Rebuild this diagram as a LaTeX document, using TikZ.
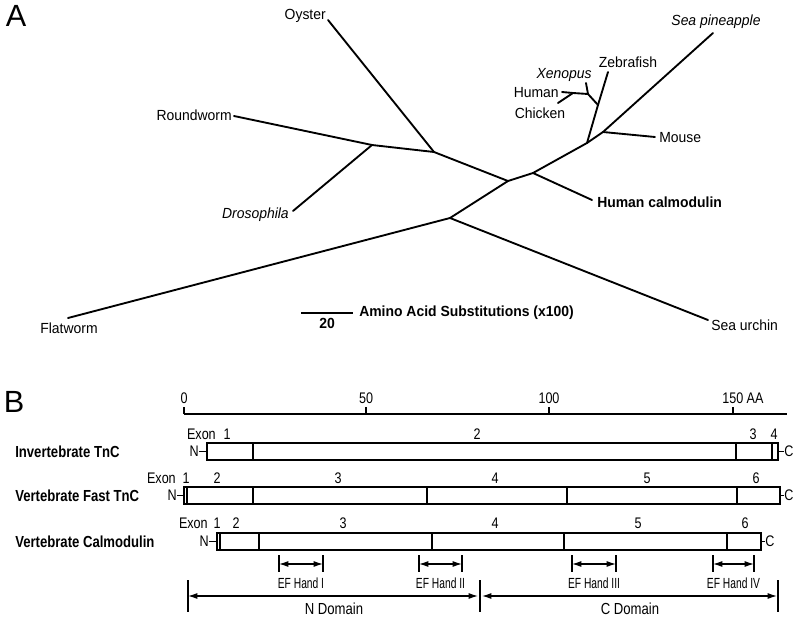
\documentclass[tikz,border=0pt]{standalone}
\usepackage{fontspec}
\setmainfont{Liberation Sans}
\newfontfamily\treefont[FakeStretch=0.95]{Liberation Sans}
\newfontfamily\narrowfont[FakeStretch=0.82]{Liberation Sans}
\newfontfamily\efont[FakeStretch=0.7]{Liberation Sans}
\usepackage{tikz}
\usetikzlibrary{arrows.meta,positioning,fit}

\begin{document}
\begin{tikzpicture}[x=0.75pt,y=-0.75pt,
    branch/.style={line width=1.4pt,line cap=round},
    leaf/.style={font=\fontsize{11}{13}\selectfont\treefont,inner sep=0pt},
    panel/.style={font=\fontsize{23}{26}\selectfont,inner sep=0pt},
    rowname/.style={font=\fontsize{12}{14}\selectfont\narrowfont\bfseries,anchor=west,inner sep=0pt},
    small/.style={font=\fontsize{11.5}{13}\selectfont\narrowfont,inner sep=0pt},
    efl/.style={font=\fontsize{11}{13}\selectfont\efont,inner sep=0pt},
    segbox/.style={draw,line width=1.1pt,inner sep=0pt},
    exdiv/.style={line width=1.1pt},
    axline/.style={line width=0.8pt},
    stub/.style={line width=0.8pt},
    endbar/.style={line width=0.9pt},
    dbl/.style={{Latex[length=7pt,width=4.5pt]}-{Latex[length=7pt,width=4.5pt]},line width=0.9pt}]
  \useasboundingbox (0,0) rectangle (800,621);

  % A: tree
  \node[panel] (lblA) at (16,16) {A};
  \coordinate (j0) at (372,145);
  \coordinate (j1) at (434,152);
  \coordinate (j2) at (508,181);
  \coordinate (j3) at (450,218);
  \coordinate (j4) at (533,173);
  \coordinate (j5) at (587,143);
  \coordinate (j6) at (603,132);
  \coordinate (j7) at (598,105);
  \coordinate (j8) at (588,94);
  \coordinate (j9) at (573,93);

  \coordinate (toyster) at (328,20);   \node[leaf,anchor=base east] (oyster) at (326,20) {Oyster};
  \coordinate (troundw) at (234,116);  \node[leaf,anchor=base east] (roundw) at (232,120) {Roundworm};
  \coordinate (tdroso) at (293,211);   \node[leaf,anchor=base east] (droso) at (289,218) {\itshape Drosophila};
  \coordinate (tflat) at (68,318);     \node[leaf,anchor=base] (flat) at (69,333) {Flatworm};
  \coordinate (turchin) at (708,320);  \node[leaf,anchor=base west] (urchin) at (711,330) {Sea urchin};
  \coordinate (thcal) at (592,200);    \node[leaf,anchor=base west] (hcal) at (597,207) {\bfseries Human calmodulin};
  \coordinate (tpine) at (713,33);     \node[leaf,anchor=base] (pine) at (716,26) {\itshape Sea pineapple};
  \coordinate (tmouse) at (655,137);   \node[leaf,anchor=base west] (mouse) at (659,142) {Mouse};
  \coordinate (tzebra) at (608,72);    \node[leaf,anchor=base] (zebra) at (628,67) {Zebrafish};
  \coordinate (txeno) at (586,83);     \node[leaf,anchor=base] (xeno) at (564,78) {\itshape Xenopus};
  \coordinate (thuman) at (562,92);    \node[leaf,anchor=base east] (human) at (559,97) {Human};
  \coordinate (tchick) at (558,103);   \node[leaf,anchor=base] (chick) at (540,118) {Chicken};

  \foreach \a/\b in {j0/troundw,j0/tdroso,j0/j1,j1/toyster,j1/j2,j2/j3,j3/tflat,j3/turchin,
                     j2/j4,j4/thcal,j4/j5,j5/j6,j6/tpine,j6/tmouse,j5/j7,j7/tzebra,
                     j7/j8,j8/txeno,j8/j9,j9/thuman,j9/tchick}
    \draw[branch] (\a) -- (\b);

  \coordinate (sb0) at (301,313);
  \coordinate (sb1) at (353,313);
  \draw[branch,line cap=butt] (sb0) -- (sb1);
  \node[leaf,anchor=base] (sbval) at (327,328) {\bfseries 20};
  \node[leaf,anchor=base west] (sbname) at (359,316) {\bfseries Amino Acid Substitutions (x100)};

  % B: exon maps
  \node[panel] (lblB) at (14,401.5) {B};
  \coordinate (ax0) at (184,414);
  \coordinate (ax1) at (787,414);
  \draw[axline] (ax0) -- (ax1);
  \foreach \v/\x in {0/184,50/366,100/549,150/733}
    \draw[axline] (\x,414) -- (\x,407);
  \foreach \v/\x in {0/184,50/366,100/549}
    \node[small,anchor=base] (tk\v) at (\x,403) {\v};
  \node[small,anchor=base west] (tk150) at (722,403) {150 AA};

  \node[rowname] (inv) at (15,451.5) {Invertebrate TnC};
  \node[rowname] (fast) at (15,496) {Vertebrate Fast TnC};
  \node[rowname] (cam) at (15,541.5) {Vertebrate Calmodulin};

  \node[segbox,fit={(207,443) (778,460)}] (r1) {};
  \foreach \x in {253,736,772} \draw[exdiv] (\x,443) -- (\x,460);
  \node[small,anchor=base east] (ex1) at (216,439) {Exon};
  \foreach \t/\x in {1/227,2/477,3/753,4/774}
    \node[small,anchor=base] (e1n\t) at (\x,439) {\t};
  \node[small,anchor=east] (n1) at (199,451.5) {N};
  \node[small,anchor=west] (c1) at (784,451.5) {C};
  \draw[stub] (n1) -- (r1);
  \draw[stub] (r1) -- (c1);

  \node[segbox,fit={(184,487) (780,504)}] (r2) {};
  \foreach \x in {187,253,427,567,737} \draw[exdiv] (\x,487) -- (\x,504);
  \node[small,anchor=base east] (ex2) at (176,483) {Exon};
  \foreach \t/\x in {1/186,2/217,3/338,4/495,5/647,6/756}
    \node[small,anchor=base] (e2n\t) at (\x,483) {\t};
  \node[small,anchor=east] (n2) at (177,495.5) {N};
  \node[small,anchor=west] (c2) at (784,495.5) {C};
  \draw[stub] (n2) -- (r2);
  \draw[stub] (r2) -- (c2);

  \node[segbox,fit={(217,533) (761,550)}] (r3) {};
  \foreach \x in {220,259,432,564,727} \draw[exdiv] (\x,533) -- (\x,550);
  \node[small,anchor=base east] (ex3) at (208,528) {Exon};
  \foreach \t/\x in {1/217,2/236,3/343,4/495,5/638,6/745}
    \node[small,anchor=base] (e3n\t) at (\x,528) {\t};
  \node[small,anchor=east] (n3) at (209,541.5) {N};
  \node[small,anchor=west] (c3) at (765,541.5) {C};
  \draw[stub] (n3) -- (r3);
  \draw[stub] (r3) -- (c3);

  \foreach \a/\b/\h [count=\i] in {279/323/I,419/462/II,572/616/III,713/754/IV} {
    \coordinate (ef\i l) at (\a,564);
    \coordinate (ef\i r) at (\b,564);
    \draw[endbar] (\a,555) -- (\a,572);
    \draw[endbar] (\b,555) -- (\b,572);
    \draw[dbl] (ef\i l) -- (ef\i r);
    \node[efl,anchor=base] (efh\i) at ({(\a+\b)/2},588) {EF Hand \h};
  }

  \coordinate (nd0) at (188,596);
  \coordinate (nd1) at (478,596);
  \coordinate (cd0) at (482,596);
  \coordinate (cd1) at (777,596);
  \foreach \x in {188,480,778} \draw[endbar] (\x,580) -- (\x,612);
  \draw[dbl] (nd0) -- (nd1);
  \draw[dbl] (cd0) -- (cd1);
  \node[small,font=\fontsize{12}{14}\selectfont\narrowfont,anchor=base] (ndom) at (334,614) {N Domain};
  \node[small,font=\fontsize{12}{14}\selectfont\narrowfont,anchor=base] (cdom) at (630,614) {C Domain};
\end{tikzpicture}
\end{document}
